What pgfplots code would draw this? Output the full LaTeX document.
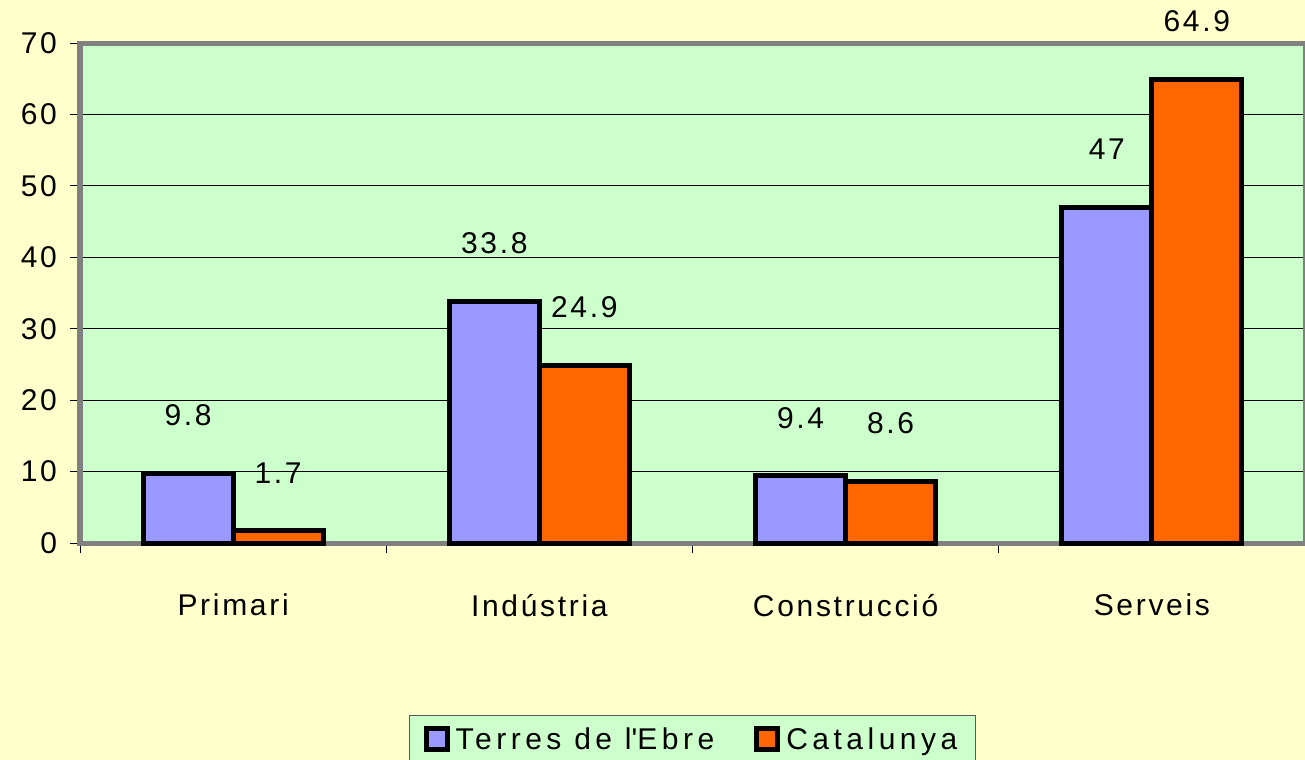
\documentclass[border=0pt]{standalone}
\usepackage{fontspec}
\setmainfont{Liberation Sans}
\usepackage{pgfplots}
\pgfplotsset{compat=1.18}

\definecolor{pagebg}{HTML}{FFFFCC}
\definecolor{plotbg}{HTML}{CCFFCC}
\definecolor{ebre}{HTML}{9999FF}
\definecolor{cat}{HTML}{FF6600}
\definecolor{frame}{HTML}{808080}
\newcommand\fs{\fontsize{15bp}{18bp}\selectfont\addfontfeature{LetterSpace=9}}
\newcommand\fl{\fontsize{15bp}{18bp}\selectfont\addfontfeature{LetterSpace=15}}

\begin{document}
\begin{tikzpicture}
\fill[pagebg] (-40bp,-108.5bp) rectangle (612.5bp,271.5bp);
\begin{axis}[
    at={(0,0)}, anchor=south west,
    scale only axis,
    width=612.5bp, height=250bp,
    ybar,
    bar width=45bp,
    xmin=-0.5, xmax=3.5,
    ymin=0, ymax=70,
    axis background/.style={fill=plotbg},
    axis line style={frame, line width=2.5bp},
    ytick={0,10,...,70},
    ymajorgrids, grid style={black, line width=0.5bp},
    xtick={0,1,2,3},
    xticklabels={Primari, Indústria, Construcció, Serveis},
    major x tick style={draw=none},
    minor xtick={-0.5,0.5,1.5,2.5},
    minor tick length=5bp, major tick length=5bp,
    tick align=outside,
    xtick pos=left, ytick pos=left,
    tick style={black, line width=0.5bp},
    /pgf/number format/assume math mode=true,
    ticklabel style={font=\fs},
    xticklabel style={yshift=-17bp},
    yticklabel style={xshift=-3bp},
    clip=false,
    nodes near coords,
    nodes near coords style={font=\fs, anchor=center, yshift=29bp,
        /pgf/number format/fixed, /pgf/number format/precision=1},
    legend columns=2,
    legend style={at={(0.5,0)}, anchor=north, yshift=-86bp,
        fill=plotbg, draw=frame!70!black, font=\fl, inner xsep=7bp, inner ysep=4bp,
        /tikz/every odd column/.append style={column sep=1bp},
        /tikz/every even column/.append style={column sep=18bp}},
    legend image code/.code={\draw[#1, line width=2.5bp, draw=black] (0bp,-5bp) rectangle (10.5bp,5.5bp);},
]
\addplot[fill=ebre, draw=black, line width=2.5bp, bar shift=-22.5bp]
    coordinates {(0,9.8) (1,33.8) (2,9.4) (3,47)};
\addplot[fill=cat, draw=black, line width=2.5bp, bar shift=22.5bp]
    coordinates {(0,1.7) (1,24.9) (2,8.6) (3,64.9)};
\legend{Terres de l\textquotesingle Ebre, Catalunya}
\end{axis}
\pgfresetboundingbox
\path[use as bounding box] (-40bp,-108.5bp) rectangle (612.5bp,271.5bp);
\end{tikzpicture}
\end{document}
